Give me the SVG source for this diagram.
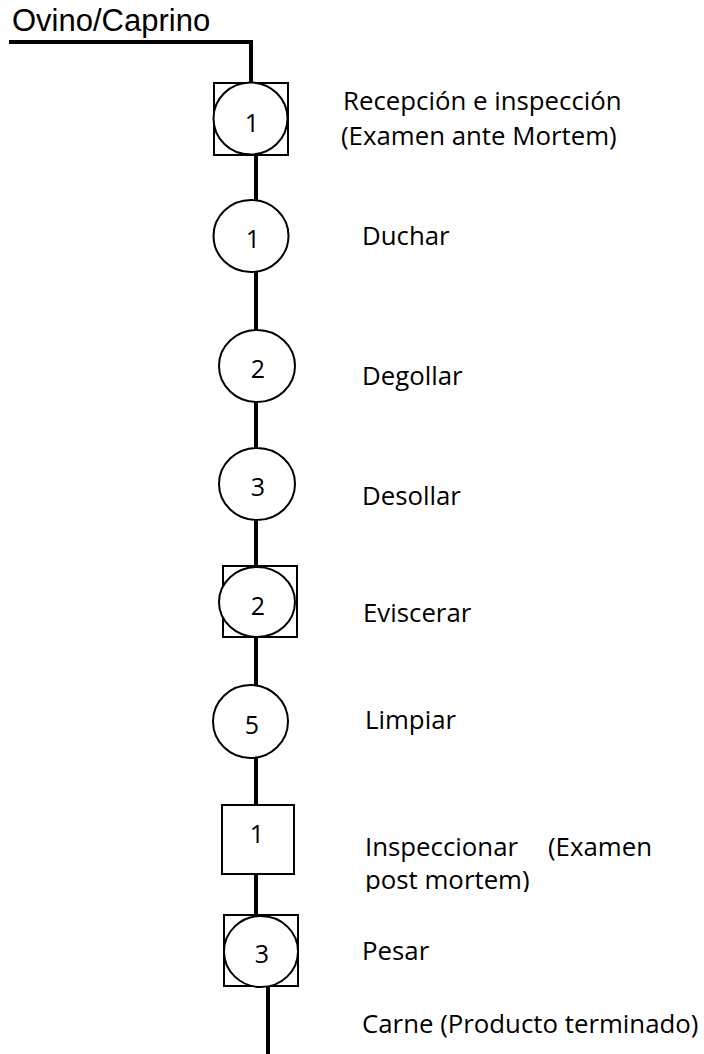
<svg xmlns="http://www.w3.org/2000/svg" width="704" height="1054" viewBox="0 0 704 1054">
  <style>
    .shape { fill: #ffffff; stroke: #000000; stroke-width: 2; }
    .link { fill: none; stroke: #000000; stroke-width: 4; }
    .num { font-family: "Open Sans", "Liberation Sans", sans-serif; font-size: 25px; fill: #000000; text-anchor: middle; }
    .label { font-family: "Open Sans", "Liberation Sans", sans-serif; font-size: 25.8px; fill: #000000; }
    .title { font-family: "Liberation Sans", Arial, sans-serif; font-size: 31px; fill: #000000; }
  </style>
  <defs>
    <clipPath id="clip-post">
      <rect x="340" y="860" width="300" height="32"/>
    </clipPath>
  </defs>
  <rect width="704" height="1054" fill="#ffffff"/>

  <!-- flow line -->
  <g id="connectors">
    <polyline class="link" points="9,42 251,42 251,83"/>
    <line class="link" x1="256" y1="154" x2="256" y2="201"/>
    <line class="link" x1="256" y1="271" x2="256" y2="331"/>
    <line class="link" x1="256" y1="401" x2="256" y2="449"/>
    <line class="link" x1="256" y1="519" x2="256" y2="567"/>
    <line class="link" x1="256" y1="637" x2="256" y2="686"/>
    <line class="link" x1="256" y1="757" x2="256" y2="805"/>
    <line class="link" x1="256" y1="873" x2="256" y2="919"/>
    <line class="link" x1="268" y1="986" x2="268" y2="1054"/>
  </g>

  <g id="source">
    <text class="title" x="12" y="31">Ovino/Caprino</text>
  </g>

  <g id="step-recepcion">
    <rect class="shape" x="214" y="83" width="74" height="72"/>
    <ellipse class="shape" cx="250.5" cy="118.5" rx="37" ry="36"/>
    <text class="num" x="252" y="132">1</text>
    <text class="label" x="343" y="110">Recepción e inspección</text>
    <text class="label" x="341" y="145">(Examen ante Mortem)</text>
  </g>

  <g id="step-duchar">
    <ellipse class="shape" cx="251" cy="236" rx="37.5" ry="36"/>
    <text class="num" x="253" y="248">1</text>
    <text class="label" x="362" y="245">Duchar</text>
  </g>

  <g id="step-degollar">
    <ellipse class="shape" cx="257" cy="366" rx="38" ry="36"/>
    <text class="num" x="258" y="378">2</text>
    <text class="label" x="362" y="385">Degollar</text>
  </g>

  <g id="step-desollar">
    <ellipse class="shape" cx="257" cy="484" rx="38" ry="36"/>
    <text class="num" x="258" y="496">3</text>
    <text class="label" x="362" y="505">Desollar</text>
  </g>

  <g id="step-eviscerar">
    <rect class="shape" x="223" y="566" width="74" height="71"/>
    <ellipse class="shape" cx="257" cy="602" rx="38" ry="35"/>
    <text class="num" x="258" y="615">2</text>
    <text class="label" x="363" y="622">Eviscerar</text>
  </g>

  <g id="step-limpiar">
    <ellipse class="shape" cx="250.5" cy="721.5" rx="37.5" ry="36.5"/>
    <text class="num" x="252" y="734">5</text>
    <text class="label" x="365" y="729">Limpiar</text>
  </g>

  <g id="step-inspeccionar">
    <rect class="shape" x="222" y="805" width="72" height="69"/>
    <text class="num" x="257" y="843">1</text>
    <text class="label" x="365" y="856">Inspeccionar</text>
    <text class="label" x="548" y="856">(Examen</text>
    <text class="label" x="365" y="889" clip-path="url(#clip-post)">post mortem)</text>
  </g>

  <g id="step-pesar">
    <rect class="shape" x="224" y="915" width="74" height="71"/>
    <ellipse class="shape" cx="261" cy="951.5" rx="37" ry="35.5"/>
    <text class="num" x="262" y="963">3</text>
    <text class="label" x="362" y="960">Pesar</text>
  </g>

  <g id="product">
    <text class="label" x="362" y="1033">Carne (Producto terminado)</text>
  </g>
</svg>
